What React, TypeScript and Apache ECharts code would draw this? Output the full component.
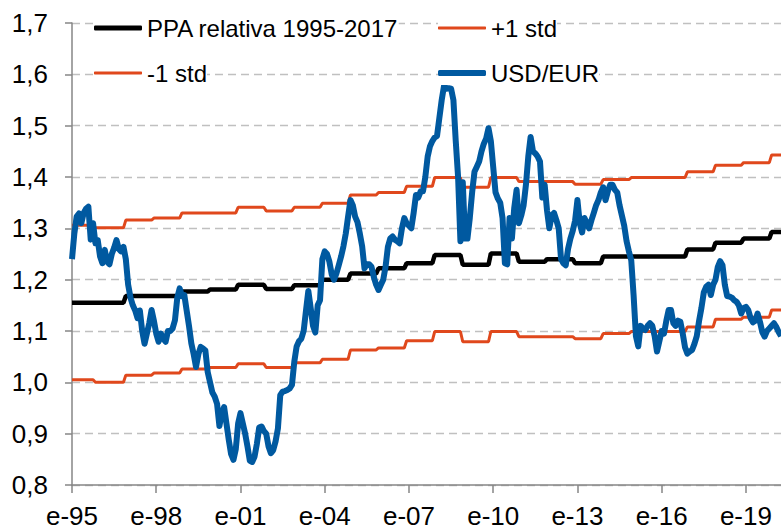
import React, { useEffect, useRef } from "react";
import * as echarts from "echarts";

const startYear = 1995;
const monthLetters = ["e", "f", "m", "a", "m", "j", "j", "a", "s", "o", "n", "d"];

// USD/EUR, monthly from Jan 1995
const usdEur = [
  1.24, 1.29, 1.323, 1.329, 1.31, 1.33, 1.338, 1.342, 1.278, 1.31, 1.271, 1.277,
  1.245, 1.232, 1.258, 1.235, 1.23, 1.25, 1.262, 1.277, 1.26, 1.255, 1.264, 1.24,
  1.19, 1.165, 1.15, 1.14, 1.125, 1.14, 1.1, 1.075, 1.095, 1.115, 1.141, 1.12,
  1.095, 1.079, 1.095, 1.085, 1.079, 1.1, 1.1, 1.105, 1.121, 1.165, 1.183, 1.168,
  1.17, 1.14, 1.11, 1.076, 1.055, 1.03, 1.055, 1.069, 1.066, 1.062, 1.02, 1.0,
  0.98, 0.972, 0.958, 0.915, 0.94, 0.952, 0.92, 0.888, 0.86, 0.849, 0.87, 0.92,
  0.94, 0.92, 0.9, 0.875, 0.847, 0.845, 0.855, 0.88, 0.912, 0.914, 0.905, 0.9,
  0.875, 0.862, 0.868, 0.885, 0.91, 0.975, 0.982, 0.983, 0.985, 0.988, 0.995, 1.04,
  1.07, 1.08, 1.085, 1.1, 1.14, 1.178, 1.145, 1.11, 1.097, 1.15, 1.16, 1.24,
  1.255, 1.25, 1.235, 1.21, 1.2, 1.212, 1.228, 1.245, 1.265, 1.29, 1.323, 1.355,
  1.345, 1.323, 1.312, 1.29, 1.265, 1.222, 1.23, 1.23, 1.225, 1.205, 1.19, 1.18,
  1.19, 1.2, 1.225, 1.264, 1.28, 1.284, 1.278, 1.275, 1.271, 1.3, 1.32, 1.31,
  1.305, 1.3, 1.33, 1.365, 1.36, 1.372, 1.372, 1.4, 1.44, 1.46, 1.47, 1.477,
  1.48, 1.515, 1.55, 1.578, 1.572, 1.573, 1.572, 1.55, 1.47, 1.4, 1.275, 1.39,
  1.28, 1.28, 1.32, 1.37, 1.41, 1.42, 1.43, 1.45, 1.465, 1.475, 1.495, 1.47,
  1.42, 1.37, 1.358, 1.35, 1.32, 1.232, 1.23, 1.32, 1.28, 1.34, 1.375, 1.31,
  1.325, 1.345, 1.385, 1.44, 1.478, 1.45, 1.446, 1.44, 1.43, 1.36, 1.385, 1.335,
  1.3, 1.325, 1.33, 1.316, 1.3, 1.24, 1.232, 1.228, 1.26, 1.28, 1.295, 1.315,
  1.355, 1.31, 1.292, 1.32, 1.31, 1.3, 1.316, 1.33, 1.345, 1.355, 1.37, 1.38,
  1.355, 1.372, 1.385, 1.385, 1.375, 1.37, 1.345, 1.325, 1.305, 1.275, 1.255, 1.238,
  1.17, 1.09, 1.07, 1.11, 1.105, 1.102, 1.11, 1.115, 1.11, 1.09, 1.06, 1.08,
  1.1, 1.095, 1.12, 1.141, 1.141, 1.115, 1.11, 1.12, 1.118, 1.095, 1.068, 1.056,
  1.06, 1.063, 1.075, 1.09, 1.12, 1.145, 1.175, 1.186, 1.19, 1.17, 1.19, 1.2,
  1.225, 1.236, 1.228, 1.19, 1.168, 1.167, 1.165, 1.16, 1.157, 1.15, 1.134, 1.145,
  1.147, 1.141, 1.125, 1.117, 1.12, 1.134, 1.118, 1.098, 1.089, 1.1, 1.105, 1.11,
  1.115, 1.108, 1.098, 1.09,
];

// Step series: month index (from Jan 1995) where each level starts
const stepStartMonths = [0, 10, 23, 35, 47, 59, 71, 83, 95, 107, 119, 131, 143, 155, 167, 179, 191, 203, 215, 227, 239, 251, 263, 275, 287, 299];
const ppaSteps = [1.155, 1.155, 1.168, 1.168, 1.177, 1.181, 1.19, 1.182, 1.189, 1.2, 1.212, 1.222, 1.232, 1.248, 1.229, 1.251, 1.235, 1.24, 1.232, 1.245, 1.245, 1.245, 1.259, 1.272, 1.28, 1.293];
const upperSteps = [1.306, 1.301, 1.316, 1.32, 1.33, 1.33, 1.341, 1.334, 1.341, 1.349, 1.365, 1.37, 1.382, 1.399, 1.38, 1.399, 1.391, 1.391, 1.386, 1.395, 1.399, 1.399, 1.41, 1.423, 1.428, 1.443];
const lowerSteps = [1.005, 1.0, 1.014, 1.018, 1.026, 1.029, 1.036, 1.029, 1.038, 1.045, 1.063, 1.067, 1.081, 1.099, 1.079, 1.099, 1.089, 1.089, 1.085, 1.095, 1.099, 1.099, 1.108, 1.123, 1.127, 1.141];

const seriesNames = ["PPA relativa 1995-2017", "+1 std", "-1 std", "USD/EUR"];

function expandSteps(levels: number[]): number[] {
  const out: number[] = [];
  for (let s = 0; s < stepStartMonths.length; s++) {
    const end = s + 1 < stepStartMonths.length ? stepStartMonths[s + 1] : usdEur.length;
    for (let i = stepStartMonths[s]; i < end; i++) out.push(levels[s]);
  }
  return out;
}

const categories = usdEur.map((_, i) => {
  const y = startYear + Math.floor(i / 12);
  const m = (i % 12) + 1;
  return `${y}-${m < 10 ? "0" + m : m}`;
});

const FONT = "'Liberation Sans', Arial, sans-serif";
const BLUE = "#0059A0";
const RED = "#E0481C";

export default function App() {
  const ref = useRef<HTMLDivElement>(null);
  useEffect(() => {
    if (!ref.current) return;
    const chart = echarts.init(ref.current, undefined, { renderer: "svg" });
    const legendBase = {
      padding: 0,
      itemWidth: 48,
      icon: "roundRect",
      backgroundColor: "#ffffff",
      textStyle: { fontSize: 24, fontFamily: FONT, color: "#000", lineHeight: 24 },
    };
    chart.setOption({
      animation: false,
      backgroundColor: "#ffffff",
      textStyle: { fontFamily: FONT },
      legend: [
        { ...legendBase, itemHeight: 5, data: [seriesNames[0]], left: 94, top: 16 },
        { ...legendBase, itemHeight: 3, data: [seriesNames[1]], left: 438, top: 16 },
        { ...legendBase, itemHeight: 3, data: [seriesNames[2]], left: 94, top: 61 },
        { ...legendBase, itemHeight: 6, data: [seriesNames[3]], left: 438, top: 61 },
      ],
      grid: { left: 72, right: 0, top: 23, bottom: 47, containLabel: false },
      xAxis: {
        type: "category",
        data: categories,
        boundaryGap: false,
        axisLine: { lineStyle: { color: "#868686", width: 1.5 } },
        axisTick: { interval: 35, length: 8, lineStyle: { color: "#868686", width: 1.5 } },
        axisLabel: {
          interval: 35,
          margin: 18,
          fontSize: 26,
          fontFamily: FONT,
          color: "#000",
          formatter: (_v: string, idx: number) =>
            `${monthLetters[idx % 12]}-${String(startYear + Math.floor(idx / 12)).slice(2)}`,
        },
        splitLine: { show: false },
      },
      yAxis: {
        type: "value",
        min: 0.8,
        max: 1.7,
        interval: 0.1,
        axisLine: { show: true, lineStyle: { color: "#868686", width: 1.5 } },
        axisTick: { show: true, length: 7, lineStyle: { color: "#868686", width: 1.5 } },
        axisLabel: {
          margin: 24,
          fontSize: 26,
          fontFamily: FONT,
          color: "#000",
          formatter: (v: number) => v.toFixed(1).replace(".", ","),
        },
        splitLine: { show: true, lineStyle: { color: "#C0C0C0", width: 1.3, type: [8, 5] } },
      },
      series: [
        {
          name: seriesNames[0],
          type: "line",
          data: expandSteps(ppaSteps),
          symbol: "none",
          lineStyle: { color: "#000", width: 4.5 },
          itemStyle: { color: "#000" },
        },
        {
          name: seriesNames[1],
          type: "line",
          data: expandSteps(upperSteps),
          symbol: "none",
          lineStyle: { color: RED, width: 3 },
          itemStyle: { color: RED },
        },
        {
          name: seriesNames[2],
          type: "line",
          data: expandSteps(lowerSteps),
          symbol: "none",
          lineStyle: { color: RED, width: 3 },
          itemStyle: { color: RED },
        },
        {
          name: seriesNames[3],
          type: "line",
          data: usdEur,
          symbol: "none",
          lineStyle: { color: BLUE, width: 6, join: "round" },
          itemStyle: { color: BLUE },
        },
      ],
    });
    return () => chart.dispose();
  }, []);
  return (
    <div
      ref={ref}
      style={{ position: "fixed", left: 0, top: 0, width: 781, height: 532, background: "#fff" }}
    />
  );
}
